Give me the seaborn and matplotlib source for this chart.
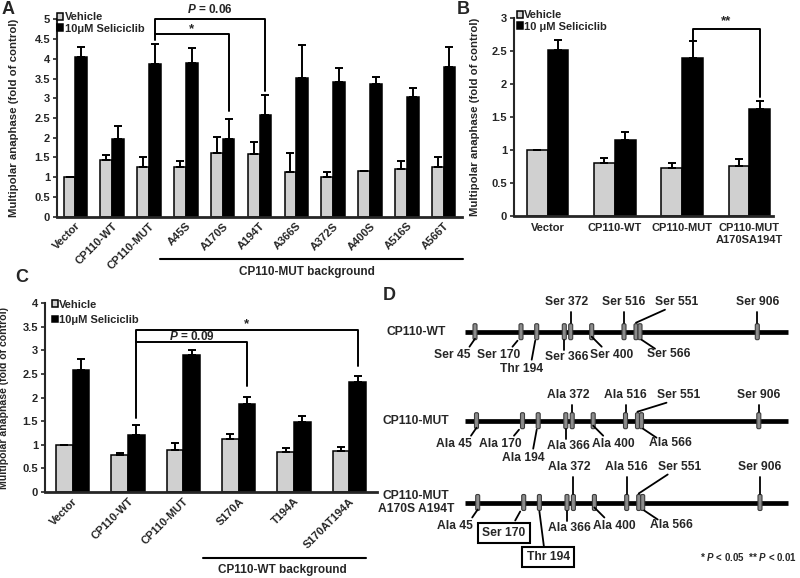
import numpy as np
import pandas as pd
import matplotlib
matplotlib.use('Agg')
import matplotlib.pyplot as plt
import matplotlib.transforms as mtransforms
from matplotlib.patches import FancyBboxPatch
import seaborn as sns

sns.set_style('ticks')
plt.rcParams['font.family'] = ['Liberation Sans', 'DejaVu Sans']
plt.rcParams['font.weight'] = 'bold'
plt.rcParams['axes.labelweight'] = 'bold'
plt.rcParams['mathtext.fontset'] = 'custom'
plt.rcParams['mathtext.it'] = 'Liberation Sans:italic:bold'
plt.rcParams['mathtext.rm'] = 'Liberation Sans:bold'

# panel A
a_groups = ['Vector', 'CP110-WT', 'CP110-MUT', 'A45S', 'A170S', 'A194T', 'A366S', 'A372S', 'A400S', 'A516S', 'A566T']
a_vehicle = [1.00, 1.44, 1.27, 1.26, 1.62, 1.58, 1.14, 1.00, 1.15, 1.20, 1.27]
a_vehicle_err = [0.0, 0.12, 0.23, 0.15, 0.41, 0.31, 0.48, 0.13, 0.02, 0.21, 0.25]
a_selic = [4.05, 1.98, 3.86, 3.89, 1.96, 2.58, 3.52, 3.40, 3.35, 3.04, 3.80]
a_selic_err = [0.25, 0.32, 0.51, 0.39, 0.52, 0.50, 0.84, 0.37, 0.19, 0.22, 0.50]

# panel B
b_groups = ['Vector', 'CP110-WT', 'CP110-MUT', 'CP110-MUT\nA170SA194T']
b_vehicle = [1.00, 0.80, 0.73, 0.76]
b_vehicle_err = [0.0, 0.085, 0.08, 0.11]
b_selic = [2.52, 1.16, 2.40, 1.62]
b_selic_err = [0.15, 0.12, 0.25, 0.12]

# panel C
c_groups = ['Vector', 'CP110-WT', 'CP110-MUT', 'S170A', 'T194A', 'S170AT194A']
c_vehicle = [1.00, 0.78, 0.89, 1.13, 0.85, 0.87]
c_vehicle_err = [0.0, 0.05, 0.14, 0.11, 0.08, 0.08]
c_selic = [2.59, 1.20, 2.91, 1.87, 1.49, 2.33]
c_selic_err = [0.23, 0.21, 0.10, 0.14, 0.13, 0.13]

# panel D
site_num = [45, 170, 194, 366, 372, 400, 516, 551, 566, 906]
wt_res = ['Ser', 'Ser', 'Thr', 'Ser', 'Ser', 'Ser', 'Ser', 'Ser', 'Ser', 'Ser']
mut_res = ['Ala', 'Ala', 'Ala', 'Ala', 'Ala', 'Ala', 'Ala', 'Ser', 'Ala', 'Ser']
rev_res = ['Ala', 'Ser', 'Thr', 'Ala', 'Ala', 'Ala', 'Ala', 'Ser', 'Ala', 'Ser']
d_rows = ['CP110-WT', 'CP110-MUT', 'CP110-MUT\nA170S A194T']

GRAY = '#d0d0d0'
FS = 8


def bar_panel(ax, groups, veh, veh_err, sel, sel_err, sel_label, ymax, width, ylab_fs):
    df = pd.DataFrame({'group': groups * 2,
                       'treat': ['Vehicle'] * len(groups) + [sel_label] * len(groups),
                       'value': veh + sel})
    sns.barplot(data=df, x='group', y='value', hue='treat', order=groups,
                hue_order=['Vehicle', sel_label], palette=[GRAY, 'black'],
                edgecolor='black', linewidth=1.1, width=width, errorbar=None, ax=ax)
    bars = list(ax.containers)
    for cont, err in zip(bars, [veh_err, sel_err]):
        xs = [b.get_x() + b.get_width() / 2 for b in cont]
        ys = [b.get_height() for b in cont]
        ax.errorbar(xs, ys, yerr=[np.zeros(len(err)), err], fmt='none', ecolor='black',
                    elinewidth=1.4, capsize=2.6, capthick=1.4, zorder=3)
    ax.set_ylim(0, ymax)
    ticks = np.arange(0, ymax + 0.01, 0.5)
    ax.set_yticks(ticks, [f'{t:g}' for t in ticks])
    ax.tick_params(axis='y', direction='out', length=3, width=1.2, labelsize=FS, pad=2)
    ax.tick_params(axis='x', length=0, labelsize=FS, pad=3)
    for s in ['top', 'right']:
        ax.spines[s].set_visible(False)
    ax.spines['left'].set_linewidth(1.5)
    ax.spines['bottom'].set_linewidth(2.0)
    ax.set_xlabel('')
    ax.set_ylabel('Multipolar anaphase (fold of control)', fontsize=ylab_fs)
    return [b.get_x() + b.get_width() / 2 for b in bars[1]]


def bracket(ax, x0, x1, y, y0, y1):
    ax.plot([x0, x0, x1, x1], [y0, y, y, y1], color='black', lw=1.4, clip_on=False, zorder=4)


def legend(ax, anchor, spacing):
    h, l = ax.get_legend_handles_labels()
    ax.legend(h, l, loc='upper left', bbox_to_anchor=anchor, frameon=False, fontsize=FS,
              handlelength=0.55, handleheight=0.55, handletextpad=0.15,
              labelspacing=spacing, borderaxespad=0, borderpad=0)


fig = plt.figure(figsize=(8, 5.78), dpi=100)

# ---- A
axA = fig.add_axes([57 / 800, 1 - 216.7 / 578, 405 / 800, 197.4 / 578])
cx = bar_panel(axA, a_groups, a_vehicle, a_vehicle_err, a_selic, a_selic_err,
               '10μM Seliciclib', 5, 0.64, 8.2)
axA.set_xlim(-0.5, 10.5)
plt.setp(axA.get_xticklabels(), rotation=45, ha='right', rotation_mode='anchor')
axA.yaxis.set_label_coords(-0.094, 0.5)
legend(axA, (0.0, 1.035), 0.1)
bracket(axA, cx[2], cx[5], 5.01, 4.48, 3.18)
bracket(axA, cx[2], cx[4], 4.63, 4.63, 2.68)
axA.text((cx[2] + cx[5]) / 2, 5.26, '$P$ = 0.06', ha='center', va='center', fontsize=8.5, clip_on=False)
axA.text((cx[2] + cx[4]) / 2, 4.76, '*', ha='center', va='center', fontsize=9.5, clip_on=False)
trA = mtransforms.blended_transform_factory(axA.transData, axA.transAxes)
axA.plot([2.31, 10.53], [-0.216, -0.216], color='black', lw=1.5, transform=trA, clip_on=False)
axA.text(6.3, -0.279, 'CP110-MUT background', transform=trA, ha='center', va='center', fontsize=8.5)

# ---- B
axB = fig.add_axes([514 / 800, 1 - 216 / 578, 259 / 800, 197.7 / 578])
cx = bar_panel(axB, b_groups, b_vehicle, b_vehicle_err, b_selic, b_selic_err,
               '10 μM Seliciclib', 3, 0.62, 8.2)
axB.set_xlim(-0.5, 3.35)
plt.setp(axB.get_xticklabels(), ha='center', va='top')
axB.tick_params(axis='x', pad=5)
axB.yaxis.set_label_coords(-0.131, 0.5)
legend(axB, (0.01, 1.04), 0.12)
bracket(axB, cx[2], cx[3], 2.84, 2.67, 1.81)
axB.text((cx[2] + cx[3]) / 2, 2.96, '**', ha='center', va='center', fontsize=9.5, clip_on=False)

# ---- C
axC = fig.add_axes([45 / 800, 1 - 492 / 578, 332 / 800, 188.7 / 578])
cx = bar_panel(axC, c_groups, c_vehicle, c_vehicle_err, c_selic, c_selic_err,
               '10μM Seliciclib', 4, 0.6, 7.6)
axC.set_xlim(-0.5, 5.5)
plt.setp(axC.get_xticklabels(), rotation=45, ha='right', rotation_mode='anchor')
axC.yaxis.set_label_coords(-0.108, 0.5)
legend(axC, (0.02, 1.02), 0.5)
bracket(axC, cx[1], cx[5], 3.44, 1.56, 2.68)
bracket(axC, cx[1], cx[3], 3.18, 3.18, 2.24)
axC.text((cx[1] + cx[5]) / 2, 3.56, '*', ha='center', va='center', fontsize=9.5)
axC.text((cx[1] + cx[3]) / 2, 3.29, '$P$ = 0.09', ha='center', va='center', fontsize=8.5)
trC = mtransforms.blended_transform_factory(axC.transData, axC.transAxes)
axC.plot([2.35, 5.3], [-0.351, -0.351], color='black', lw=1.5, transform=trC, clip_on=False)
axC.text(3.79, -0.413, 'CP110-WT background', transform=trC, ha='center', va='center', fontsize=8.5)

# ---- D (diagram, pixel-like data coordinates)
axD = fig.add_axes([395 / 800, 0, 405 / 800, 288 / 578])
axD.set_xlim(395, 800)
axD.set_ylim(578, 290)
axD.axis('off')

site_px = [475, 521, 536.7, 564.3, 570.7, 591.7, 624, 636, 640, 757.3]
row_y = [331.7, 420.7, 502.5]
row_shift = [0, 1.5, 2.7]
above_dy = [-30, -26, -36]
# below labels: text dx, dy and leader (x0, y0, x1, y1) relative to site / row
below = {45: (-23, 23.5, 0, 7, -5.5, 15), 170: (-22.5, 23.5, -3.5, 9, -8.5, 15),
         194: (-15, 37, -1.5, 9, -5, 28), 366: (2.5, 25, 0, 8, 0, 18),
         400: (20, 23.5, 0, 5, 10, 15), 566: (29, 22, 1.5, 8, 15, 17)}
DFS = 8.7
for k, res in enumerate([wt_res, mut_res, rev_res]):
    r = row_y[k]
    axD.plot([465, 788], [r, r], color='black', lw=3.4, solid_capstyle='butt', zorder=1)
    axD.text(416, r, d_rows[k], ha='center', va='center', fontsize=DFS, linespacing=1.15)
    for i, n in enumerate(site_num):
        s = site_px[i] + row_shift[k]
        axD.add_patch(FancyBboxPatch((s - 2, r - 8), 4, 16, boxstyle='round,pad=0,rounding_size=1.5',
                                     fc='#8c8c8c', ec='#3c3c3c', lw=0.8, zorder=2))
        lab = f'{res[i]} {n}'
        if n in below:
            tdx, tdy, lx0, ly0, lx1, ly1 = below[n]
            box = None
            if k == 2 and n == 170:
                tdx, tdy, ly1 = -20, 30.5, 18
                box = dict(boxstyle='square,pad=0.35', fc='white', ec='black', lw=1.5)
            if k == 2 and n == 194:
                tdx, tdy, lx0, ly0, lx1, ly1 = 8.7, 54.5, 0, 9, 4.7, 45.5
                box = dict(boxstyle='square,pad=0.35', fc='white', ec='black', lw=1.5)
            axD.plot([s + lx0, s + lx1], [r + ly0, r + ly1], color='black', lw=1.3)
            axD.text(s + tdx, r + tdy, lab, ha='center', va='center', fontsize=DFS, bbox=box, zorder=3)
        else:
            dy = above_dy[k]
            if n == 551:
                axD.plot([s, s + 29], [r - 9, r + dy + 8], color='black', lw=1.3)
                axD.text(s + 41, r + dy, lab, ha='center', va='center', fontsize=DFS)
            else:
                axD.plot([s, s], [r - 9, r + dy + 10], color='black', lw=1.3)
                tdx = -4 if n == 372 else 0
                axD.text(s + tdx, r + dy, lab, ha='center', va='center', fontsize=DFS)

axD.text(797, 557, '* $P$ < 0.05  ** $P$ < 0.01', ha='right', va='center', fontsize=7)

# panel letters
for letter, (px, py) in {'A': (8, 10), 'B': (463, 10), 'C': (22, 278), 'D': (389, 296)}.items():
    fig.text(px / 800, 1 - py / 578, letter, ha='center', va='center', fontsize=13, fontweight='bold')

fig.savefig('out.png', dpi=100)
